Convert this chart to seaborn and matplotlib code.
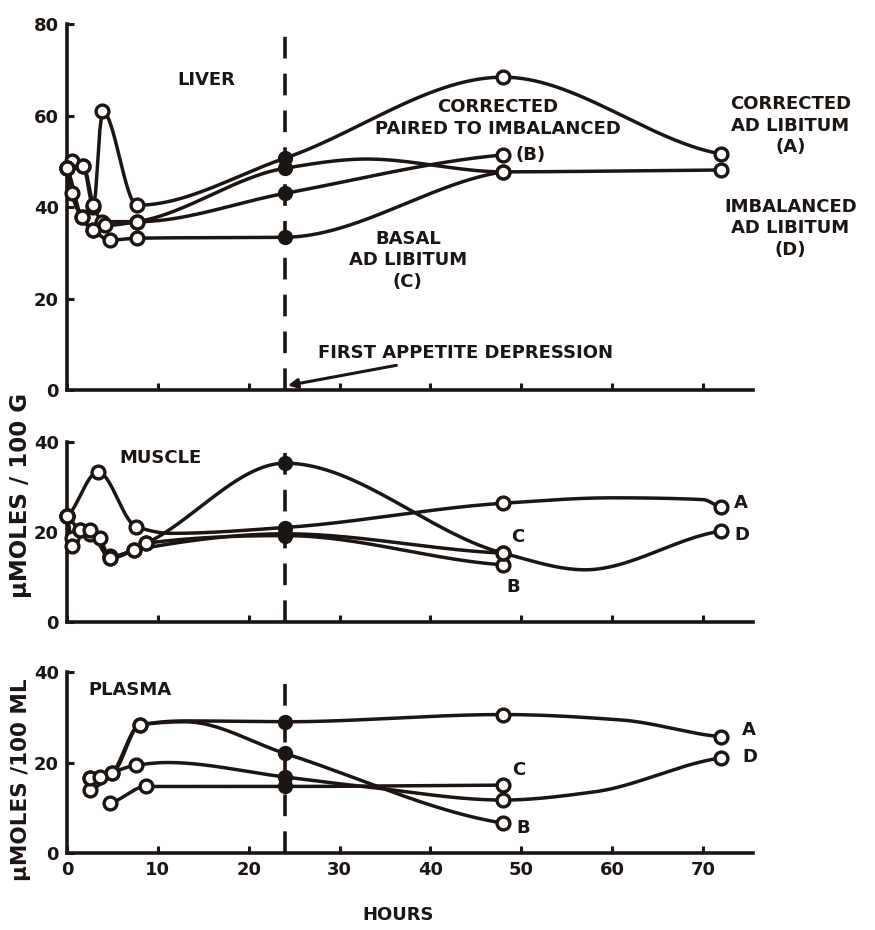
import numpy as np
import pandas as pd
import matplotlib
matplotlib.use("Agg")
import matplotlib.pyplot as plt
import seaborn as sns

# ---------------- data (hours, µmoles) ----------------
# Liver (µmoles / 100 g)
liver_A_h = [0, 0.5, 1.8, 2.9, 3.9, 7.7, 24, 48, 72]
liver_A_v = [48.5, 50.0, 49.0, 40.0, 61.0, 40.4, 50.7, 68.4, 51.6]
liver_B_h = [0, 1.6, 2.9, 3.8, 7.7, 24, 48]
liver_B_v = [48.5, 37.8, 35.0, 36.8, 36.8, 43.0, 51.4]
liver_C_h = [0, 0.5, 1.6, 2.9, 4.7, 7.7, 24, 48]
liver_C_v = [48.5, 43.0, 37.8, 35.0, 32.8, 33.2, 33.4, 47.7]
liver_D_h = [0, 1.8, 2.9, 4.2, 7.7, 24, 48, 72]
liver_D_v = [48.5, 49.0, 40.5, 36.0, 36.8, 48.5, 47.7, 48.1]
liver_D_bend_h = [33]
liver_D_bend_v = [50.5]

# Muscle (µmoles / 100 g)
muscle_A_h = [0, 3.4, 7.6, 24, 48, 72]
muscle_A_v = [23.5, 33.4, 21.2, 21.0, 26.4, 25.5]
muscle_A_bend_h = [11.5, 60, 70]
muscle_A_bend_v = [19.7, 27.6, 27.2]
muscle_B_h = [0, 0.5, 2.5, 4.7, 7.4, 8.7, 24, 48]
muscle_B_v = [23.5, 18.6, 19.5, 14.6, 16.0, 17.5, 19.2, 12.7]
muscle_C_h = [0, 1.4, 3.6, 4.7, 7.4, 24, 48]
muscle_C_v = [23.5, 20.4, 18.6, 14.2, 16.0, 19.6, 15.3]
muscle_D_h = [0, 0.5, 1.4, 2.5, 4.7, 8.7, 24, 48, 72]
muscle_D_v = [23.5, 17.0, 20.4, 20.4, 14.2, 17.5, 35.3, 15.3, 20.2]
muscle_D_bend_h = [57]
muscle_D_bend_v = [11.6]

# Plasma (µmoles / 100 ml)
plasma_A_h = [2.5, 5, 8, 24, 48, 72]
plasma_A_v = [16.5, 17.7, 28.3, 29.0, 30.6, 25.7]
plasma_A_bend_h = [13, 61]
plasma_A_bend_v = [29.2, 29.4]
plasma_B_h = [2.5, 5, 8, 24, 48]
plasma_B_v = [13.9, 17.7, 28.3, 22.0, 6.6]
plasma_B_bend_h = [13]
plasma_B_bend_v = [29.0]
plasma_C_h = [4.7, 8.7, 24, 48]
plasma_C_v = [11.0, 14.7, 14.7, 15.0]
plasma_D_h = [2.5, 3.6, 7.6, 24, 48, 72]
plasma_D_v = [16.5, 16.9, 19.4, 16.8, 11.7, 21.0]
plasma_D_bend_h = [11, 33, 58]
plasma_D_bend_v = [20.0, 14.6, 13.5]

hour_ticks = [0, 10, 20, 30, 40, 50, 60, 70]
appetite_hour = 24

INK = "#1c1512"

sns.set_theme(style="ticks")
plt.rcParams["font.family"] = ["DejaVu Sans"]
plt.rcParams["font.weight"] = "bold"


def pchip(x, y, n=300):
    """Shape-preserving cubic curve through the given points, for drawing."""
    x = np.asarray(x, float)
    y = np.asarray(y, float)
    h = np.diff(x)
    d = np.diff(y) / h
    m = np.zeros_like(y)
    for k in range(1, len(x) - 1):
        if d[k - 1] * d[k] > 0:
            w1 = 2 * h[k] + h[k - 1]
            w2 = h[k] + 2 * h[k - 1]
            m[k] = (w1 + w2) / (w1 / d[k - 1] + w2 / d[k])
    m[0] = d[0] * 0.5
    m[-1] = d[-1] * 0.5
    xs = np.linspace(x[0], x[-1], n)
    idx = np.clip(np.searchsorted(x, xs) - 1, 0, len(x) - 2)
    t = (xs - x[idx]) / h[idx]
    h00 = 2 * t**3 - 3 * t**2 + 1
    h10 = t**3 - 2 * t**2 + t
    h01 = -2 * t**3 + 3 * t**2
    h11 = t**3 - t**2
    ys = (h00 * y[idx] + h10 * h[idx] * m[idx] + h01 * y[idx + 1]
          + h11 * h[idx] * m[idx + 1])
    return xs, ys


def draw_series(ax, h, v, bend_h=(), bend_v=()):
    pts = sorted(zip(list(h) + list(bend_h), list(v) + list(bend_v)))
    cx, cy = pchip([p[0] for p in pts], [p[1] for p in pts])
    sns.lineplot(x=cx, y=cy, ax=ax, color=INK, lw=2.5, estimator=None,
                 sort=False, zorder=3)
    df = pd.DataFrame({"hours": h, "value": v})
    open_pts = df[df["hours"] != appetite_hour]
    solid_pts = df[df["hours"] == appetite_hour]
    sns.scatterplot(data=open_pts, x="hours", y="value", ax=ax, color="white",
                    edgecolor=INK, linewidth=2.4, s=85, zorder=4, clip_on=False)
    sns.scatterplot(data=solid_pts, x="hours", y="value", ax=ax, color=INK,
                    edgecolor=INK, linewidth=1.5, s=90, zorder=4, clip_on=False)


fig = plt.figure(figsize=(8.75, 9.3), dpi=100)
ax1 = fig.add_axes([0.0766, 0.5806, 0.784, 0.3935])
ax2 = fig.add_axes([0.0766, 0.3312, 0.784, 0.1935])
ax3 = fig.add_axes([0.0766, 0.0828, 0.784, 0.1946])

# vertical marker of the first appetite depression
ax1.plot([appetite_hour] * 2, [0, 80], color=INK, lw=2.6,
         ls=(0, (6.0, 4.2)), zorder=2)
ax2.plot([appetite_hour] * 2, [0, 38], color=INK, lw=2.6,
         ls=(0, (6.0, 4.2)), zorder=2)
ax3.plot([appetite_hour] * 2, [0, 37.5], color=INK, lw=2.6,
         ls=(0, (6.0, 4.2)), zorder=2)

# Liver
draw_series(ax1, liver_A_h, liver_A_v)
draw_series(ax1, liver_B_h, liver_B_v)
draw_series(ax1, liver_C_h, liver_C_v)
draw_series(ax1, liver_D_h, liver_D_v, liver_D_bend_h, liver_D_bend_v)

# Muscle
draw_series(ax2, muscle_A_h, muscle_A_v, muscle_A_bend_h, muscle_A_bend_v)
draw_series(ax2, muscle_B_h, muscle_B_v)
draw_series(ax2, muscle_C_h, muscle_C_v)
draw_series(ax2, muscle_D_h, muscle_D_v, muscle_D_bend_h, muscle_D_bend_v)

# Plasma
draw_series(ax3, plasma_A_h, plasma_A_v, plasma_A_bend_h, plasma_A_bend_v)
draw_series(ax3, plasma_B_h, plasma_B_v, plasma_B_bend_h, plasma_B_bend_v)
draw_series(ax3, plasma_C_h, plasma_C_v)
draw_series(ax3, plasma_D_h, plasma_D_v, plasma_D_bend_h, plasma_D_bend_v)

# axes styling (after plotting so seaborn's automatic labels are cleared)
for ax, top, yt in [(ax1, 80, [0, 20, 40, 60, 80]), (ax2, 40, [0, 20, 40]),
                    (ax3, 40, [0, 20, 40])]:
    ax.set_xlim(0, 75.5)
    ax.set_ylim(0, top)
    ax.set_yticks(yt)
    ax.set_xticks(hour_ticks)
    sns.despine(ax=ax)
    for s in ("left", "bottom"):
        ax.spines[s].set_linewidth(2.6)
        ax.spines[s].set_color(INK)
    ax.tick_params(axis="both", direction="in", length=5, width=2.2,
                   colors=INK, labelsize=13, pad=6)
    ax.set_xlabel("")
    ax.set_ylabel("")
    ax.set_facecolor("white")
    for lab in ax.get_yticklabels():
        lab.set_fontweight("bold")
    if ax is not ax3:
        ax.set_xticklabels([])
    else:
        for lab in ax.get_xticklabels():
            lab.set_fontweight("bold")

tk = dict(color=INK, fontsize=13, fontweight="bold", linespacing=1.25)

# Liver annotations
ax1.text(15.3, 67.8, "LIVER", ha="center", va="center", **tk)
ax1.text(47.4, 59.5, "CORRECTED\nPAIRED TO IMBALANCED", ha="center",
         va="center", **tk)
ax1.text(49.4, 51.4, "(B)", ha="left", va="center", **tk)
ax1.text(37.5, 28.4, "BASAL\nAD LIBITUM\n(C)", ha="center", va="center", **tk)
ax1.text(79.6, 57.8, "CORRECTED\nAD LIBITUM\n(A)", ha="center",
         va="center", **tk)
ax1.text(79.6, 35.4, "IMBALANCED\nAD LIBITUM\n(D)", ha="center",
         va="center", **tk)
ax1.annotate("FIRST APPETITE DEPRESSION", xy=(24.3, 1.0),
             xytext=(27.6, 8.2), ha="left", va="center",
             arrowprops=dict(arrowstyle="-|>", color=INK, lw=2.2,
                             shrinkA=2, shrinkB=0, mutation_scale=14),
             **tk)

# Muscle annotations
ax2.text(5.8, 36.4, "MUSCLE", ha="left", va="center", **tk)
ax2.text(73.4, 26.5, "A", ha="left", va="center", **tk)
ax2.text(73.4, 19.4, "D", ha="left", va="center", **tk)
ax2.text(48.9, 18.9, "C", ha="left", va="center", **tk)
ax2.text(48.3, 7.8, "B", ha="left", va="center", **tk)

# Plasma annotations
ax3.text(2.3, 36.0, "PLASMA", ha="left", va="center", **tk)
ax3.text(49.0, 18.3, "C", ha="left", va="center", **tk)
ax3.text(49.5, 5.6, "B", ha="left", va="center", **tk)
ax3.text(74.3, 27.2, "A", ha="left", va="center", **tk)
ax3.text(74.3, 21.2, "D", ha="left", va="center", **tk)

# shared axis titles
fig.text(21 / 875, 1 - 495 / 930, "μMOLES / 100 G", rotation=90,
         ha="center", va="center", **dict(tk, fontsize=16.5))
fig.text(21 / 875, 1 - 780 / 930, "μMOLES /100 ML", rotation=90,
         ha="center", va="center", **dict(tk, fontsize=15.5))
fig.text(398 / 875, 1 - 915 / 930, "HOURS", ha="center", va="center", **tk)

fig.savefig("out.png", dpi=100, facecolor="white")
